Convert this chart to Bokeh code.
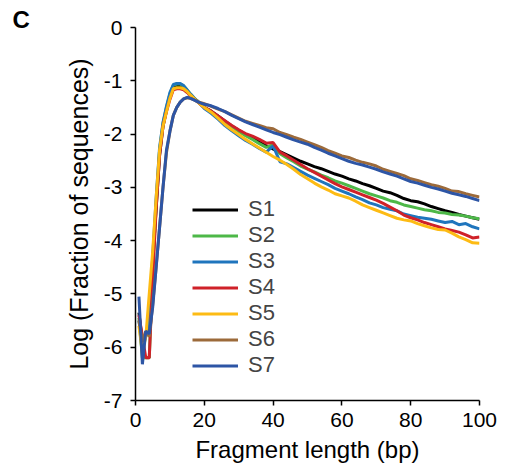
from bokeh.plotting import figure
from bokeh.models import Legend, LegendItem
from bokeh.embed import file_html
from bokeh.resources import INLINE

# Fragment length (bp)
x_head = list(range(1, 21))
x_tail = list(range(22, 101, 2))
x_vals = x_head + x_tail

names = ["S1", "S2", "S3", "S4", "S5", "S6", "S7"]
colors = ["#000000", "#4DB848", "#1F75BD", "#CF2129", "#FDBB14", "#9C6A3A", "#2D55A5"]

s1 = [-5.35, -5.9, -5.75, -5.6, -4.4, -3.4, -2.4, -1.85, -1.55, -1.3, -1.12, -1.1, -1.1, -1.13, -1.2, -1.27, -1.33, -1.38, -1.44, -1.50,
      -1.57, -1.66, -1.76, -1.85, -1.93, -2.01, -2.08, -2.15, -2.22, -2.28, -2.33, -2.39, -2.45, -2.51, -2.56, -2.61, -2.65, -2.70, -2.75, -2.79,
      -2.84, -2.88, -2.93, -2.97, -3.02, -3.07, -3.10, -3.15, -3.21, -3.25, -3.27, -3.31, -3.36, -3.40, -3.44, -3.47, -3.51, -3.54, -3.57, -3.60]
s2 = [-5.45, -6.2, -6.2, -6.2, -4.6, -3.3, -2.3, -1.8, -1.5, -1.25, -1.08, -1.06, -1.06, -1.1, -1.17, -1.25, -1.32, -1.38, -1.44, -1.50,
      -1.58, -1.67, -1.77, -1.86, -1.95, -2.03, -2.10, -2.18, -2.25, -2.20, -2.37, -2.45, -2.52, -2.60, -2.66, -2.71, -2.77, -2.82, -2.88, -2.92,
      -2.97, -3.02, -3.07, -3.12, -3.16, -3.20, -3.25, -3.28, -3.33, -3.36, -3.39, -3.42, -3.44, -3.47, -3.48, -3.51, -3.52, -3.54, -3.57, -3.59]
s3 = [-5.5, -6.0, -5.8, -5.5, -4.3, -3.2, -2.25, -1.78, -1.48, -1.22, -1.07, -1.05, -1.05, -1.09, -1.17, -1.25, -1.32, -1.39, -1.45, -1.52,
      -1.61, -1.72, -1.84, -1.94, -2.03, -2.12, -2.19, -2.27, -2.34, -2.22, -2.52, -2.56, -2.63, -2.70, -2.77, -2.83, -2.89, -2.95, -3.02, -3.07,
      -3.12, -3.18, -3.23, -3.29, -3.33, -3.38, -3.41, -3.44, -3.50, -3.53, -3.56, -3.58, -3.60, -3.63, -3.66, -3.64, -3.70, -3.68, -3.74, -3.78]
s4 = [-5.4, -5.8, -6.2, -6.2, -4.7, -3.4, -2.4, -1.85, -1.58, -1.35, -1.17, -1.15, -1.15, -1.17, -1.22, -1.28, -1.34, -1.39, -1.45, -1.50,
      -1.57, -1.66, -1.75, -1.84, -1.92, -1.99, -2.04, -2.10, -2.17, -2.16, -2.34, -2.41, -2.49, -2.57, -2.65, -2.72, -2.79, -2.86, -2.93, -2.99,
      -3.04, -3.09, -3.14, -3.19, -3.24, -3.30, -3.37, -3.44, -3.52, -3.57, -3.61, -3.66, -3.70, -3.74, -3.78, -3.81, -3.84, -3.89, -3.95, -3.93]
s5 = [-5.6, -6.1, -5.8, -5.0, -4.2, -3.2, -2.3, -1.85, -1.58, -1.33, -1.15, -1.13, -1.13, -1.15, -1.2, -1.27, -1.33, -1.39, -1.45, -1.50,
      -1.59, -1.70, -1.82, -1.92, -2.01, -2.10, -2.18, -2.26, -2.34, -2.42, -2.49, -2.57, -2.66, -2.76, -2.84, -2.92, -2.99, -3.05, -3.12, -3.16,
      -3.20, -3.26, -3.33, -3.38, -3.43, -3.48, -3.53, -3.58, -3.61, -3.63, -3.68, -3.72, -3.76, -3.79, -3.80, -3.86, -3.93, -3.98, -4.04, -4.05]
s6 = [-5.5, -5.9, -5.7, -5.8, -5.2, -4.5, -3.75, -3.0, -2.35, -1.95, -1.65, -1.5, -1.4, -1.34, -1.32, -1.33, -1.36, -1.39, -1.41, -1.43,
      -1.48, -1.53, -1.58, -1.64, -1.70, -1.76, -1.80, -1.84, -1.88, -1.90, -1.97, -2.01, -2.06, -2.10, -2.15, -2.20, -2.25, -2.31, -2.36, -2.41,
      -2.44, -2.49, -2.53, -2.56, -2.60, -2.66, -2.70, -2.74, -2.78, -2.84, -2.87, -2.91, -2.95, -2.98, -3.02, -3.07, -3.08, -3.12, -3.15, -3.18]
s7 = [-5.05, -6.32, -5.7, -5.75, -5.25, -4.5, -3.75, -3.0, -2.3, -1.95, -1.65, -1.5, -1.4, -1.34, -1.31, -1.33, -1.36, -1.39, -1.42, -1.44,
      -1.47, -1.52, -1.58, -1.65, -1.71, -1.77, -1.82, -1.87, -1.92, -1.97, -2.01, -2.06, -2.11, -2.15, -2.19, -2.25, -2.30, -2.36, -2.41, -2.46,
      -2.51, -2.55, -2.58, -2.62, -2.66, -2.71, -2.75, -2.79, -2.84, -2.89, -2.92, -2.96, -3.00, -3.03, -3.07, -3.11, -3.14, -3.17, -3.21, -3.25]
series = [s1, s2, s3, s4, s5, s6, s7]

x_ticks = [0, 20, 40, 60, 80, 100]
y_ticks = [0, -1, -2, -3, -4, -5, -6, -7]
y_tick_labels = ["0", "-1", "-2", "-3", "-4", "-5", "-6", "-7"]

FONT = "Liberation Sans"

p = figure(frame_width=344, frame_height=373, x_range=(0, 100), y_range=(-7, 0),
           output_backend="svg", toolbar_location=None,
           min_border_left=135, min_border_right=18, min_border_top=27, min_border_bottom=60)
p.outline_line_color = None
p.xgrid.visible = False
p.ygrid.visible = False
p.background_fill_color = "white"
p.border_fill_color = "white"

p.title.text = "C"
p.title.align = "left"
p.title.vertical_align = "bottom"
p.title.offset = -123
p.title.standoff = -10
p.title.text_font = FONT
p.title.text_font_size = "24px"
p.title.text_font_style = "bold"
p.title.text_color = "black"

for ax in (p.xaxis[0], p.yaxis[0]):
    ax.axis_line_color = "black"
    ax.axis_line_width = 1.5
    ax.major_tick_line_color = "black"
    ax.major_tick_line_width = 1.5
    ax.major_tick_in = 0
    ax.major_tick_out = 5
    ax.minor_tick_line_color = None
    ax.major_label_text_font = FONT
    ax.major_label_text_font_size = "21px"
    ax.major_label_text_color = "black"
    ax.axis_label_text_font = FONT
    ax.axis_label_text_font_style = "normal"
    ax.axis_label_text_color = "black"

p.xaxis.ticker = x_ticks
p.yaxis.ticker = y_ticks
p.yaxis.major_label_overrides = {t: s for t, s in zip(y_ticks, y_tick_labels)}
p.xaxis.axis_label = "Fragment length (bp)"
p.yaxis.axis_label = "Log (Fraction of sequences)"
p.xaxis.axis_label_text_font_size = "24px"
p.yaxis.axis_label_text_font_size = "25px"
p.xaxis.major_label_standoff = 7
p.yaxis.major_label_standoff = 8
p.xaxis.axis_label_standoff = 6
p.yaxis.axis_label_standoff = 8

items = []
for name, col, ys in zip(names, colors, series):
    r = p.line(x_vals, ys, line_color=col, line_width=3)
    items.append(LegendItem(label=name, renderers=[r]))

legend = Legend(items=items, location=(57, 22))
legend.background_fill_alpha = 0
legend.border_line_alpha = 0
legend.padding = 0
legend.margin = 0
legend.spacing = 0
legend.glyph_height = 21
legend.glyph_width = 46
legend.label_height = 21
legend.label_standoff = 10
legend.label_text_font = FONT
legend.label_text_font_size = "22px"
p.add_layout(legend, "center")

open("out.html", "w").write(file_html(p, INLINE))
